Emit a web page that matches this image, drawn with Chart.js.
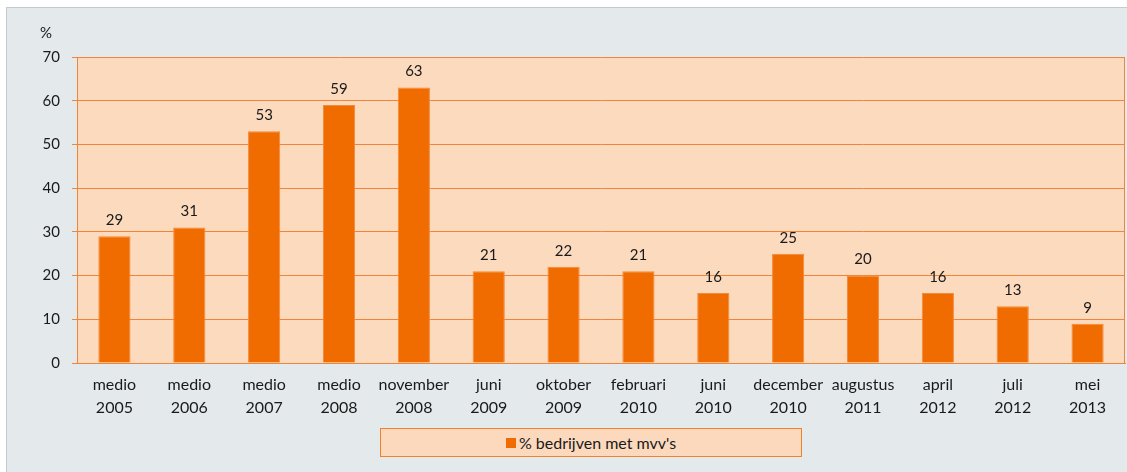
<!DOCTYPE html>
<html>
<head>
<meta charset="utf-8">
<script src="https://cdn.jsdelivr.net/npm/chart.js@4/dist/chart.umd.min.js"></script>
<style>
  body { margin: 0; background: #fff; font-family: Lato, sans-serif; }
  #frame { position: absolute; left: 6px; top: 7px; width: 1130px; height: 475px; background: #e4e9ec; border: 1px solid #c3cbd0; }
  #wrap { position: absolute; left: 0; top: 0; width: 1127px; height: 472px; }
  #legend { position: absolute; left: 380px; top: 428px; width: 420px; height: 27px; background: #fcd9bd;
            border: 1px solid #f2812e; display: flex; align-items: center; justify-content: center;
            font-size: 16px; color: #1a1a1a; }
  #legend span.sw { display: inline-block; width: 10px; height: 10px; background: #f06c00; margin-right: 3px; }
</style>
</head>
<body>
<div id="frame"></div>
<div id="wrap"><canvas id="chart"></canvas></div>
<div id="legend"><span class="sw"></span>% bedrijven met mvv's</div>
<script>
const periods = [
  ['medio', '2005'], ['medio', '2006'], ['medio', '2007'], ['medio', '2008'],
  ['november', '2008'], ['juni', '2009'], ['oktober', '2009'], ['februari', '2010'],
  ['juni', '2010'], ['december', '2010'], ['augustus', '2011'], ['april', '2012'],
  ['juli', '2012'], ['mei', '2013']
];
const percentages = [29, 31, 53, 59, 63, 21, 22, 21, 16, 25, 20, 16, 13, 9];
const seriesName = "% bedrijven met mvv's";

const orange = '#f06c00';
const gridOrange = '#f0843a';

// peach plot area + orange frame
const plotArea = {
  id: 'plotArea',
  beforeDraw(chart) {
    const { ctx, chartArea: a } = chart;
    ctx.save();
    ctx.fillStyle = '#fcdabd';
    ctx.fillRect(a.left, a.top, a.right - a.left, a.bottom - a.top);
    ctx.restore();
  },
  afterDraw(chart) {
    const { ctx, chartArea: a } = chart;
    ctx.save();
    ctx.strokeStyle = gridOrange;
    ctx.lineWidth = 1;
    ctx.beginPath();
    ctx.moveTo(Math.round(a.right) - 0.5, a.top);
    ctx.lineTo(Math.round(a.right) - 0.5, a.bottom);
    ctx.stroke();
    ctx.fillStyle = '#1a1a1a';
    ctx.font = '15px Lato, sans-serif';
    ctx.textAlign = 'center';
    ctx.textBaseline = 'middle';
    ctx.fillText('%', 46, 33);
    ctx.restore();
  }
};

// value labels above bars
const valueLabels = {
  id: 'valueLabels',
  afterDatasetsDraw(chart) {
    const { ctx } = chart;
    const meta = chart.getDatasetMeta(0);
    ctx.save();
    ctx.fillStyle = '#1a1a1a';
    ctx.font = '15px Lato, sans-serif';
    ctx.textAlign = 'center';
    ctx.textBaseline = 'middle';
    meta.data.forEach((bar, i) => {
      ctx.fillText(percentages[i], bar.x, bar.y - 16);
    });
    ctx.restore();
  }
};

new Chart(document.getElementById('chart'), {
  type: 'bar',
  data: {
    labels: periods,
    datasets: [{
      label: seriesName,
      data: percentages,
      backgroundColor: orange,
      borderColor: '#f3893a',
      borderWidth: 1,
      categoryPercentage: 1,
      barPercentage: 0.43
    }]
  },
  options: {
    responsive: true,
    maintainAspectRatio: false,
    animation: false,
    layout: { padding: { left: 0, top: 57, right: 2, bottom: 0 } },
    plugins: {
      legend: { display: false },
      tooltip: { enabled: false }
    },
    scales: {
      x: {
        afterFit(scale) { scale.height = 109; },
        grid: { display: false, drawTicks: false },
        border: { color: gridOrange },
        ticks: {
          color: '#1a1a1a',
          font: { family: 'Lato, sans-serif', size: 16, lineHeight: 1.4 },
          padding: 11,
          maxRotation: 0,
          autoSkip: false
        }
      },
      y: {
        min: 0,
        max: 70,
        afterFit(scale) { scale.width = 77; },
        grid: { color: gridOrange, tickLength: 5, drawTicks: true },
        border: { color: gridOrange },
        ticks: {
          stepSize: 10,
          color: '#1a1a1a',
          font: { family: 'Lato, sans-serif', size: 15 },
          padding: 12
        }
      }
    }
  },
  plugins: [plotArea, valueLabels]
});
</script>
</body>
</html>
